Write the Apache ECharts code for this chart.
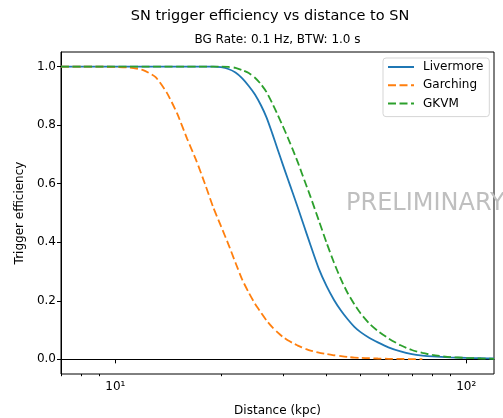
<!DOCTYPE html>
<html>
<head>
<meta charset="utf-8">
<script src="https://cdn.jsdelivr.net/npm/echarts@6/dist/echarts.min.js"></script>
<style>
html,body{margin:0;padding:0;background:#fff;}
#chart{width:503px;height:418px;}
</style>
</head>
<body>
<div id="chart"></div>
<script>
// Distance grid (kpc)
const distances = [7, 8, 9, 10, 11, 12, 13, 14, 15, 16, 17, 18, 19, 20, 21, 22, 23, 24, 25, 26, 27, 28, 29, 30, 31, 32, 33, 34, 35, 36, 38, 40, 42, 44, 46, 48, 50, 53, 56, 60, 65, 70, 75, 80, 90, 100, 110, 120];
const livermore = [1.0, 1.0, 1.0, 1.0, 1.0, 1.0, 1.0, 1.0, 1.0, 1.0, 1.0, 1.0, 1.0, 0.998, 0.992, 0.980, 0.960, 0.934, 0.905, 0.868, 0.825, 0.772, 0.718, 0.666, 0.617, 0.570, 0.524, 0.478, 0.433, 0.390, 0.310, 0.250, 0.203, 0.166, 0.136, 0.111, 0.093, 0.073, 0.058, 0.041, 0.027, 0.018, 0.013, 0.010, 0.007, 0.005, 0.004, 0.003];
const garching = [1.0, 1.0, 1.0, 0.999, 0.997, 0.988, 0.965, 0.912, 0.840, 0.755, 0.680, 0.600, 0.520, 0.455, 0.393, 0.330, 0.272, 0.228, 0.190, 0.160, 0.132, 0.110, 0.092, 0.077, 0.065, 0.056, 0.048, 0.041, 0.035, 0.030, 0.023, 0.018, 0.014, 0.011, 0.008, 0.006, 0.005, 0.004, 0.003, 0.002, 0.0015, 0.001, 0.001, null, null, null, null, null];
const gkvm = [1.0, 1.0, 1.0, 1.0, 1.0, 1.0, 1.0, 1.0, 1.0, 1.0, 1.0, 1.0, 1.0, 1.0, 0.999, 0.996, 0.988, 0.978, 0.962, 0.940, 0.912, 0.875, 0.836, 0.797, 0.758, 0.718, 0.678, 0.636, 0.595, 0.555, 0.475, 0.398, 0.330, 0.272, 0.225, 0.188, 0.157, 0.122, 0.097, 0.072, 0.048, 0.032, 0.022, 0.015, 0.008, 0.005, 0.003, 0.002];

const seriesNames = ['Livermore', 'Garching', 'GKVM'];
const xMajorTicks = [10, 100];
const xMajorLabels = ['10\u00B9', '10\u00B2'];
const xMinorTicks = [7, 8, 9, 20, 30, 40, 50, 60, 70, 80, 90];
const yTicks = [0, 0.2, 0.4, 0.6, 0.8, 1.0];

const titleText = 'SN trigger efficiency vs distance to SN';
const subtitleText = 'BG Rate: 0.1 Hz, BTW: 1.0 s';
const xName = 'Distance (kpc)';
const yName = 'Trigger efficiency';
const watermark = 'PRELIMINARY';

const FONT = 'DejaVu Sans';
const pair = arr => distances.map((d, i) => [d, arr[i]]);

const chart = echarts.init(document.getElementById('chart'), null, {renderer: 'canvas'});
const option = {
  animation: false,
  backgroundColor: '#ffffff',
  textStyle: {fontFamily: FONT},
  grid: {left: 61, right: 9, top: 52, bottom: 44, containLabel: false, outerBoundsMode: 'none',
    show: true, borderColor: '#000', borderWidth: 1, backgroundColor: 'transparent'},
  legend: {
    orient: 'vertical', left: 383, top: 58,
    padding: [3, 6, 7, 4], itemGap: 6.3, itemWidth: 26, itemHeight: 12,
    borderColor: '#d5d5d5', borderWidth: 1, borderRadius: 3, backgroundColor: 'rgba(255,255,255,0.8)',
    itemStyle: {opacity: 0},
    textStyle: {fontFamily: FONT, fontSize: 12, color: '#000', padding: [0, 0, 0, 4]},
    data: seriesNames
  },
  xAxis: [{
    type: 'log', logBase: 10, min: 7, max: 120, gridIndex: 0, position: 'bottom',
    name: xName, nameLocation: 'middle', nameGap: 31,
    nameTextStyle: {fontFamily: FONT, fontSize: 12, color: '#000'},
    axisLine: {show: true, lineStyle: {color: '#000', width: 1}},
    axisTick: {show: true, length: 4, lineStyle: {color: '#000'}, customValues: xMajorTicks},
    axisLabel: {show: true, margin: 7, fontFamily: FONT, fontSize: 12, color: '#000', customValues: xMajorTicks,
      formatter: v => { const i = xMajorTicks.indexOf(Math.round(v)); return i >= 0 ? xMajorLabels[i] : ''; }},
    splitLine: {show: false}, minorTick: {show: false}
  }, {
    type: 'log', logBase: 10, min: 7, max: 120, gridIndex: 0, position: 'bottom',
    axisLine: {show: false},
    axisTick: {show: true, length: 2.2, lineStyle: {color: '#000'}, customValues: xMinorTicks},
    axisLabel: {show: false},
    splitLine: {show: false}
  }],
  yAxis: {
    type: 'value', min: -0.05, max: 1.05,
    name: yName, nameLocation: 'middle', nameGap: 33, nameRotate: 90,
    nameTextStyle: {fontFamily: FONT, fontSize: 12, color: '#000'},
    axisLine: {show: true, lineStyle: {color: '#000', width: 1}},
    axisTick: {show: true, length: 4, lineStyle: {color: '#000'}, customValues: yTicks},
    axisLabel: {show: true, margin: 5, fontFamily: FONT, fontSize: 12, color: '#000', customValues: yTicks,
      formatter: v => v.toFixed(1)},
    splitLine: {show: false}
  },
  graphic: [
    {type: 'text', style: {text: titleText, x: 270, y: 16, align: 'center', verticalAlign: 'middle', font: '14.5px "DejaVu Sans"', fill: '#000'}},
    {type: 'text', style: {text: subtitleText, x: 277.5, y: 40, align: 'center', verticalAlign: 'middle', font: '12px "DejaVu Sans"', fill: '#000'}},
    {type: 'text', z: 100, style: {text: watermark, x: 346, y: 204, align: 'left', verticalAlign: 'middle', font: '24px "DejaVu Sans"', fill: '#bfbfbf'}}
  ],
  series: [
    {name: seriesNames[0], type: 'line', xAxisIndex: 0, data: pair(livermore), symbol: 'none', showSymbol: false,
      smooth: 0.2,
      lineStyle: {color: '#1f77b4', width: 1.8, type: 'solid'}, itemStyle: {color: '#1f77b4'}, z: 3},
    {name: seriesNames[1], type: 'line', xAxisIndex: 0, data: pair(garching), symbol: 'none', showSymbol: false, connectNulls: false,
      smooth: 0.2,
      lineStyle: {color: '#ff7f0e', width: 1.8, type: [8, 3.5]}, itemStyle: {color: '#ff7f0e'}, z: 4},
    {name: seriesNames[2], type: 'line', xAxisIndex: 0, data: pair(gkvm), symbol: 'none', showSymbol: false,
      smooth: 0.2,
      lineStyle: {color: '#2ca02c', width: 1.8, type: [8, 3.5]}, itemStyle: {color: '#2ca02c'}, z: 5}
  ]
};
chart.setOption(option);
</script>
</body>
</html>
